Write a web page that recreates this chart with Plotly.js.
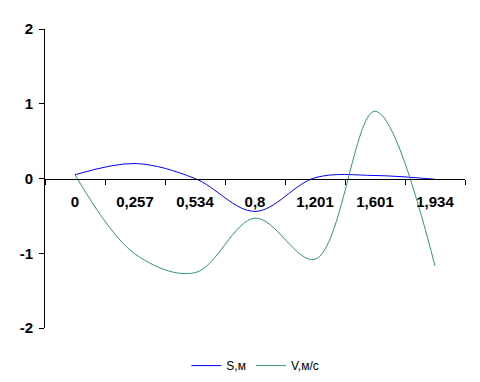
<!DOCTYPE html>
<html>
<head>
<meta charset="utf-8">
<script src="https://cdn.plot.ly/plotly-3.0.1.min.js"></script>
<style>html,body{margin:0;padding:0;background:#fff;}#chart{width:480px;height:382px;}</style>
</head>
<body>
<div id="chart"></div>
<script>
var categories = ['0', '0,257', '0,534', '0,8', '1,201', '1,601', '1,934'];
var sValues = [0.05, 0.20, 0.0, -0.44, 0.01, 0.04, -0.01];
var vValues = [0.05, -1.01, -1.26, -0.53, -1.08, 0.90, -1.17];
var yTicks = [-2, -1, 0, 1, 2];

var traces = [
  {x: categories, y: sValues, name: 'S,м', type: 'scatter', mode: 'lines',
   line: {color: '#0000FF', width: 1, shape: 'spline', smoothing: 1}},
  {x: categories, y: vValues, name: 'V,м/с', type: 'scatter', mode: 'lines',
   line: {color: '#339966', width: 1, shape: 'spline', smoothing: 1}}
];

var layout = {
  width: 480, height: 382,
  margin: {l: 45, r: 15, t: 29, b: 54, autoexpand: false},
  paper_bgcolor: '#fff', plot_bgcolor: '#fff',
  showlegend: true,
  legend: {orientation: 'h', x: 0.532, xanchor: 'center', xref: 'container',
           y: 0.005, yanchor: 'bottom', yref: 'container',
           font: {family: 'Liberation Sans, Arial, sans-serif', size: 12, color: '#000'}},
  xaxis: {
    type: 'category', range: [-0.5, 6.5], tickson: 'boundaries',
    anchor: 'free', position: 0.5,
    showline: true, linecolor: '#000', linewidth: 1,
    ticks: 'outside', ticklen: 5, tickcolor: '#000', tickwidth: 1,
    ticklabelstandoff: 9,
    showgrid: false, zeroline: false, automargin: false,
    tickfont: {family: 'Liberation Sans, Arial, sans-serif', size: 15, color: '#000', weight: 'bold'}
  },
  yaxis: {
    range: [-2, 2], tickvals: yTicks, ticktext: yTicks.map(String),
    showline: true, linecolor: '#000', linewidth: 1,
    ticks: 'outside', ticklen: 5, tickcolor: '#000', tickwidth: 1,
    ticklabelstandoff: 3,
    showgrid: false, zeroline: false, automargin: false,
    tickfont: {family: 'Liberation Sans, Arial, sans-serif', size: 15, color: '#000', weight: 'bold'}
  }
};

Plotly.newPlot('chart', traces, layout, {staticPlot: true});
</script>
</body>
</html>
